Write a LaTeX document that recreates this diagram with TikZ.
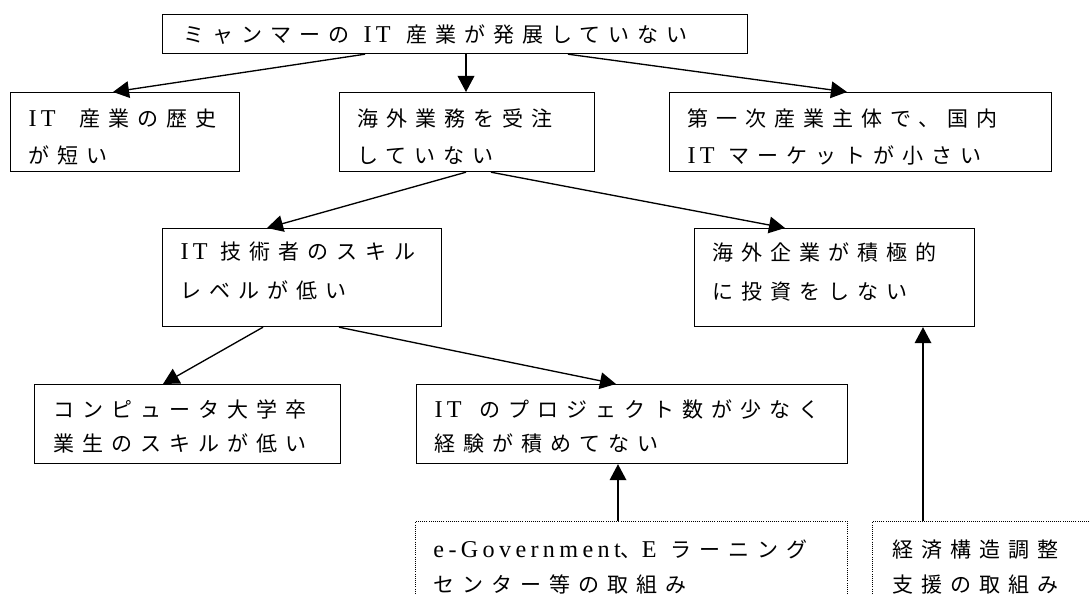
\documentclass[tikz,border=0pt]{standalone}
\usepackage{fontspec}
\setmainfont{Noto Sans CJK JP}[LetterSpace=38]
\newfontfamily\lat{Liberation Serif}[LetterSpace=18,Scale=1.15]
\usetikzlibrary{arrows.meta}
\newdimen\px \px=0.75pt
\newcommand{\gapx}[1][10]{\hspace{#1\px}}
% \bx[left inset]{width}{height}{first baseline}{line pitch}{text}
\newcommand{\bx}[6][18]{\parbox[t][#3\px][t]{#2\px}{\fontsize{15.75pt}{28pt}\selectfont\raggedright\leftskip=#1\px\baselineskip=#5\px\lineskiplimit=-100pt\lineskip=0pt\rule{0pt}{#4\px}#6}}
\tikzset{
  box/.style={draw, line width=0.9pt, inner sep=0pt, anchor=north west},
  dbox/.style={draw, line width=0.7pt, dash pattern=on 0.7pt off 0.9pt, inner sep=0pt, anchor=north west},
  arr/.style={line width=1pt, -{Triangle[length=12pt,width=12.5pt]}}
}
\begin{document}
\begin{tikzpicture}[x=0.75pt,y=-0.75pt]
\useasboundingbox[fill=white] (0,0) rectangle (1090,595);
\clip (0,0) rectangle (1090,595);
\node[box] (top) at (162,14) {\bx[21]{585}{39}{28}{38}{ミャンマーの\gapx[14]{\lat IT}\gapx[16]産業が発展していない}};
\node[box] (A) at (10,92) {\bx{229}{79}{34}{37}{{\lat IT}\gapx[24]産業の歴史\\が短い}};
\node[box] (B) at (339,92) {\bx{255}{79}{34}{37}{海外業務を受注\\していない}};
\node[box] (C) at (669,92) {\bx{382}{79}{34}{37}{第一次産業主体で、国内\\{\lat IT}\gapx[14]マーケットが小さい}};
\node[box] (D) at (162,228) {\bx{279}{98}{31}{39}{{\lat IT}\gapx[13]技術者のスキル\\レベルが低い}};
\node[box] (E) at (694,228) {\bx{280}{98}{32}{39}{海外企業が積極的\\に投資をしない}};
\node[box] (F) at (34,384) {\bx[19]{306}{79}{33}{34}{コンピュータ大学卒\\業生のスキルが低い}};
\node[box] (G) at (416,384) {\bx{431}{79}{33}{34}{{\lat IT}\gapx[18]のプロジェクト数が少なく\\経験が積めてない}};
\node[dbox] (H) at (415,521) {\bx{432}{110}{36}{35}{{\lat e-Government}、{\lat E}\gapx[14]ラーニング\\センター等の取組み}};
\node[dbox] (I) at (872,521) {\bx[20]{240}{110}{36}{35}{経済構造調整\\支援の取組み}};
\draw[arr] ([shift={(203,0)}]top.south west) -- ([shift={(103,0)}]A.north west);
\draw[arr] ([shift={(304,0)}]top.south west) -- ([shift={(127,0)}]B.north west);
\draw[arr] ([shift={(406,0)}]top.south west) -- ([shift={(178,0)}]C.north west);
\draw[arr] ([shift={(127,0)}]B.south west) -- ([shift={(105,0)}]D.north west);
\draw[arr] ([shift={(152,0)}]B.south west) -- ([shift={(91,0)}]E.north west);
\draw[arr] ([shift={(101,0)}]D.south west) -- ([shift={(129,0)}]F.north west);
\draw[arr] ([shift={(177,0)}]D.south west) -- ([shift={(200,0)}]G.north west);
\draw[arr] ([shift={(203,0)}]H.north west) -- ([shift={(202,0)}]G.south west);
\draw[arr] ([shift={(51,0)}]I.north west) -- ([shift={(229,0)}]E.south west);
\end{tikzpicture}
\end{document}
